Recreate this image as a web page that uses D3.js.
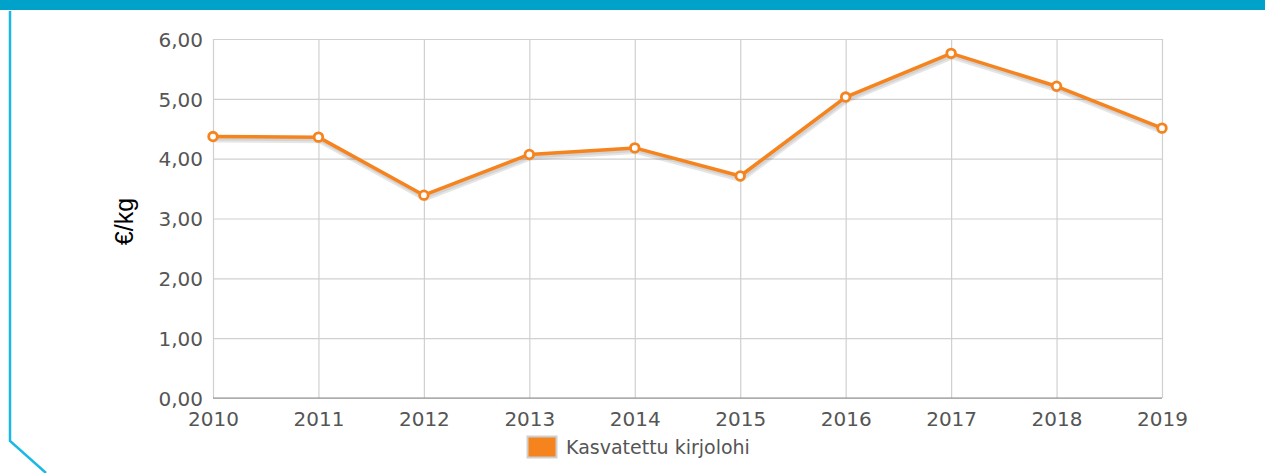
<!DOCTYPE html>
<html>
<head>
<meta charset="utf-8">
<script src="https://cdn.jsdelivr.net/npm/d3@7"></script>
<style>
  html, body { margin: 0; padding: 0; background: #fff; }
  svg { display: block; }
</style>
</head>
<body>
<svg id="chart" width="1265" height="473"></svg>
<script>
const years = ["2010","2011","2012","2013","2014","2015","2016","2017","2018","2019"];
const prices = [4.37, 4.36, 3.39, 4.07, 4.18, 3.71, 5.03, 5.76, 5.21, 4.51];
const yTicks = [0, 1, 2, 3, 4, 5, 6];
const seriesName = "Kasvatettu kirjolohi";
const yTitle = "€/kg";

(function () {
const svg = d3.select("#chart");
const W = 1265, H = 473;
const pL = 213, pR = 1162, pT = 39, pB = 398;

// decorative frame
svg.append("rect").attr("x", 0).attr("y", 0).attr("width", W).attr("height", 10).attr("fill", "#00a2c9");
svg.append("path").attr("d", "M10,11 L10,441 L46,473").attr("fill", "none").attr("stroke", "#1bb8e6").attr("stroke-width", 2.5);

const x = d3.scalePoint().domain(years).range([pL, pR]);
const y = d3.scaleLinear().domain([0, 6]).range([pB, pT]);
const fmt = v => d3.format(".2f")(v).replace(".", ",");

// gridlines
const g = svg.append("g");
g.append("g").attr("transform", `translate(${pL},0)`)
  .call(d3.axisLeft(y).tickValues(yTicks).tickSize(-(pR - pL)).tickFormat(""))
  .call(s => s.select(".domain").remove())
  .call(s => s.selectAll("line").attr("stroke", "#d0d0d0").attr("stroke-width", 1.2));
g.append("g").attr("transform", `translate(0,${pB})`)
  .call(d3.axisBottom(x).tickSize(-(pB - pT)).tickFormat(""))
  .call(s => s.select(".domain").remove())
  .call(s => s.selectAll("line").attr("stroke", "#d0d0d0").attr("stroke-width", 1.2));

// baseline
svg.append("line").attr("x1", pL).attr("x2", pR).attr("y1", pB).attr("y2", pB)
  .attr("stroke", "#8a8a8a").attr("stroke-width", 1.2);

// y tick labels
const yAx = svg.append("g").attr("transform", `translate(${pL},0)`)
  .call(d3.axisLeft(y).tickValues(yTicks).tickSize(0).tickPadding(10).tickFormat(fmt));
yAx.select(".domain").remove();
yAx.selectAll("text").attr("font-family", "DejaVu Sans, Verdana, sans-serif").attr("font-size", 20).attr("fill", "#555").attr("dy", "0.36em");

// x tick labels
const xAx = svg.append("g").attr("transform", `translate(0,${pB})`)
  .call(d3.axisBottom(x).tickSize(0).tickPadding(14));
xAx.select(".domain").remove();
xAx.selectAll("text").attr("font-family", "DejaVu Sans, Verdana, sans-serif").attr("font-size", 20).attr("fill", "#555");

// y title
svg.append("text").attr("transform", `translate(133,${(pT + pB) / 2 + 3}) rotate(-90)`)
  .attr("text-anchor", "middle").attr("font-family", "Liberation Sans, Arial, sans-serif")
  .attr("font-size", 25).attr("fill", "#000").text(yTitle);

// line + shadow
const data = years.map((yr, i) => ({ yr, v: prices[i] }));
const line = d3.line().x(d => x(d.yr)).y(d => y(d.v));
svg.append("path").datum(data).attr("d", line).attr("fill", "none")
  .attr("stroke", "rgba(0,0,0,0.10)").attr("stroke-width", 6).attr("transform", "translate(1,3)").attr("stroke-linejoin", "round");
svg.append("path").datum(data).attr("d", line).attr("fill", "none")
  .attr("stroke", "rgba(0,0,0,0.08)").attr("stroke-width", 4).attr("transform", "translate(1,2)").attr("stroke-linejoin", "round");
svg.append("path").datum(data).attr("d", line).attr("fill", "none")
  .attr("stroke", "#f5841f").attr("stroke-width", 3.5).attr("stroke-linejoin", "round");

svg.append("g").selectAll("circle").data(data).join("circle")
  .attr("cx", d => x(d.yr)).attr("cy", d => y(d.v)).attr("r", 4.3)
  .attr("fill", "#fff").attr("stroke", "#f5841f").attr("stroke-width", 2.8);

// legend
const lg = svg.append("g");
lg.append("rect").attr("x", 527.5).attr("y", 436.5).attr("width", 29).attr("height", 21)
  .attr("fill", "#f5841f").attr("stroke", "#cfcfcf").attr("stroke-width", 2);
lg.append("text").attr("x", 566).attr("y", 454).attr("font-family", "DejaVu Sans, Verdana, sans-serif")
  .attr("font-size", 19).attr("fill", "#555").text(seriesName);
})();
</script>
</body>
</html>
